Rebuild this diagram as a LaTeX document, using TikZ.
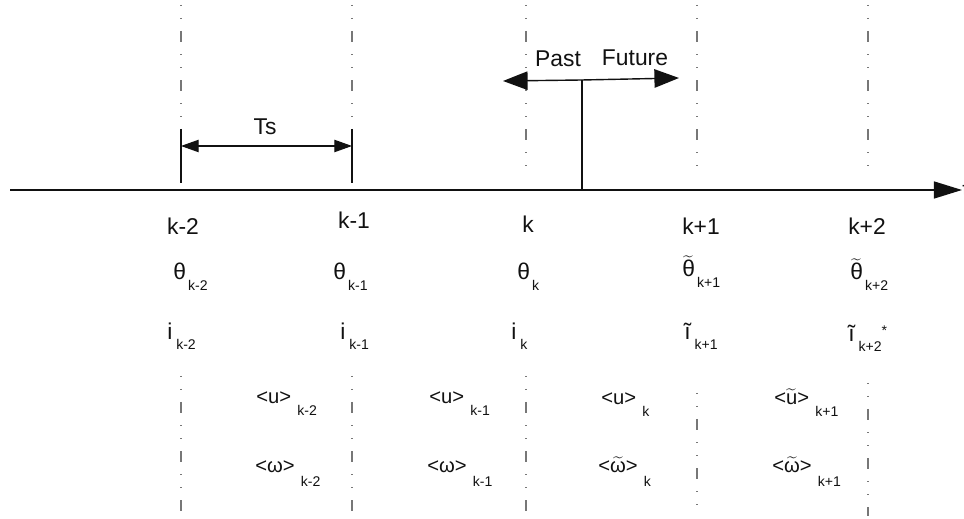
\documentclass[tikz,border=0pt]{standalone}
\usepackage{fontspec}
\setmainfont{Liberation Sans}
\usetikzlibrary{arrows.meta}
\definecolor{tline}{HTML}{111111}
\definecolor{tgrid}{HTML}{777777}
\newcommand{\lsub}[3][5.7pt]{#2\hspace{1.2pt}\raisebox{-#1}{\fontsize{8}{9}\selectfont #3}}
\newcommand{\asub}[3][6.3pt]{\textless#2\textgreater\hspace{3.5pt}\raisebox{-#1}{\fontsize{8}{9}\selectfont #3}}
\tikzset{
  lbl/.style={anchor=base, inner sep=0pt, text=tline, font=\fontsize{13}{15}\selectfont},
  var/.style={anchor=base west, inner sep=0pt, text=tline, font=\fontsize{13}{15}\selectfont},
  avg/.style={anchor=base west, inner sep=0pt, text=tline, font=\fontsize{11.5}{13}\selectfont},
  tick/.style={draw=tline, line width=0.6pt},
  gridline/.style={draw=tgrid, line width=0.6pt,
                   dash pattern=on 0.6pt off 6.8pt on 0.6pt off 6.8pt on 6.3pt off 6.8pt},
  axis/.style={-{Triangle[length=16pt, width=9.7pt]}, draw=tline, line width=0.8pt},
  pfarrow/.style={-{Triangle[length=14pt, width=10.5pt]}, draw=tline, line width=0.8pt},
  tsarrow/.style={{Triangle[length=10pt, width=7pt]}-{Triangle[length=10pt, width=7pt]}, draw=tline, line width=0.6pt}
}
\begin{document}
\begin{tikzpicture}[x=0.02cm, y=-0.02cm]
  \useasboundingbox (0,0) rectangle (964,519);

  % time axis
  \coordinate (t0) at (10,190);
  \node[lbl, anchor=west] (t) at (962,190) {t};
  \draw[axis] (t0) -- (t.west);

  % sampling instants, dash-dot
  \foreach \x/\ya/\yb/\yc [count=\i] in {181/128/376/514, 352/128/376/514, 526/166/376/512,
                                          697/166/393/506, 868/168/383/516} {
    \coordinate (top\i) at (\x,5);
    \coordinate (topend\i) at (\x,\ya);
    \coordinate (bot\i) at (\x,\yb);
    \coordinate (botend\i) at (\x,\yc);
    \draw[gridline] (top\i) -- (topend\i);
    \draw[gridline] (bot\i) -- (botend\i);
  }

  % present instant
  \coordinate (now) at (582,190);
  \coordinate (nowtop) at (582,80);
  \coordinate (past) at (503,81);
  \coordinate (future) at (679,78);
  \draw[tick] (now) -- (nowtop);
  \draw[pfarrow] (nowtop) -- (past);
  \draw[pfarrow] (nowtop) -- (future);
  \node[lbl] (pastlbl) at (558,67) {Past};
  \node[lbl] (futlbl) at (635,66) {Future};

  % sampling period
  \coordinate (tsa) at (181,129);
  \coordinate (tsab) at (181,183);
  \coordinate (tsb) at (352,129);
  \coordinate (tsbb) at (352,183);
  \coordinate (tsl) at (181,146);
  \coordinate (tsr) at (352,146);
  \draw[tick] (tsa) -- (tsab);
  \draw[tick] (tsb) -- (tsbb);
  \draw[tsarrow] (tsl) -- (tsr);
  \node[lbl] (ts) at (265,135) {Ts};

  % sample index
  \node[lbl] (k2m) at (183,235) {k-2};
  \node[lbl] (k1m) at (354,229) {k-1};
  \node[lbl] (k0) at (528,233) {k};
  \node[lbl] (k1p) at (701,235) {k+1};
  \node[lbl] (k2p) at (867,235) {k+2};

  % position
  \node[var] (th2m) at (173,280) {\lsub{θ}{k-2}};
  \node[var] (th1m) at (333,280) {\lsub{θ}{k-1}};
  \node[var] (th0) at (517,280) {\lsub{θ}{k}};
  \node[var] (th1p) at (682,277) {\lsub{$\widetilde{\mbox{θ}}$}{k+1}};
  \node[var] (th2p) at (850,280) {\lsub{$\widetilde{\mbox{θ}}$}{k+2}};

  % current
  \node[var] (i2m) at (167,340) {\lsub[5.4pt]{i}{\hspace{1pt}k-2}};
  \node[var] (i1m) at (340,340) {\lsub[5.4pt]{i}{\hspace{1pt}k-1}};
  \node[var] (i0) at (511,340) {\lsub[5.4pt]{i}{\hspace{1pt}k}};
  \node[var] (i1p) at (684,340) {\lsub[5.4pt]{ĩ}{\hspace{1pt}k+1}};
  \node[var] (i2p) at (848,342) {\lsub[5.4pt]{ĩ}{\hspace{1pt}k+2\raisebox{9pt}{*}}};

  % mean voltage
  \node[avg] (u2m) at (256,404) {\asub{u}{k-2}};
  \node[avg] (u1m) at (429,404) {\asub{u}{k-1}};
  \node[avg] (u0) at (601,405) {\asub{u}{k}};
  \node[avg] (u1p) at (774,405) {\asub{$\widetilde{\mbox{u}}$}{k+1}};

  % mean speed
  \node[avg] (w2m) at (255,473) {\asub[7.8pt]{ω}{k-2}};
  \node[avg] (w1m) at (427,473) {\asub[7.8pt]{ω}{k-1}};
  \node[avg] (w0) at (598,473) {\asub[7.8pt]{$\widetilde{\mbox{ω}}$}{k}};
  \node[avg] (w1p) at (772,473) {\asub[7.8pt]{$\widetilde{\mbox{ω}}$}{k+1}};
\end{tikzpicture}
\end{document}
